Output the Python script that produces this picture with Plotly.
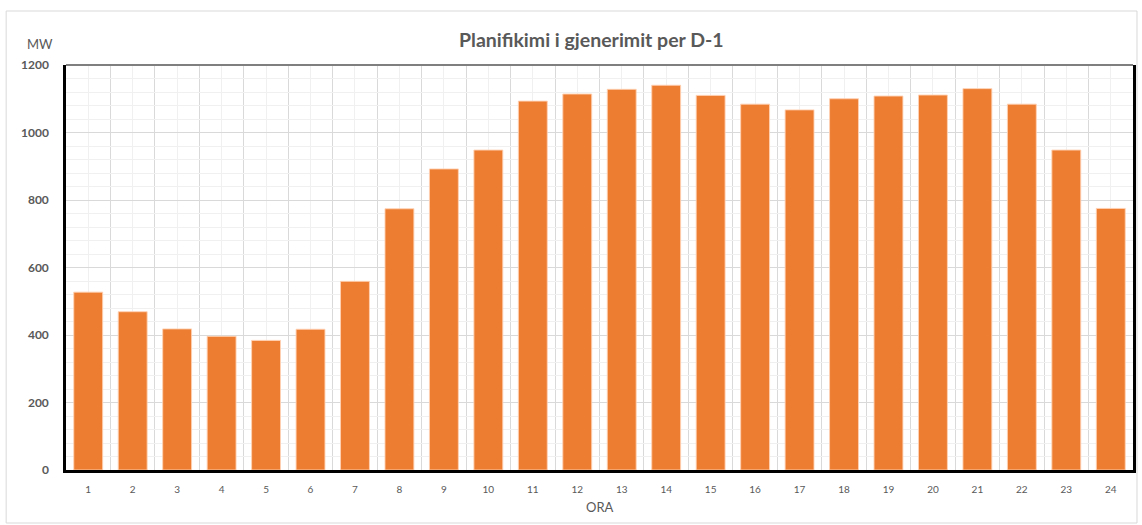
import plotly.graph_objects as go

hours = list(range(1, 25))
mw = [527, 469, 418, 396, 384, 417, 559, 774, 892, 948, 1093, 1114,
      1128, 1140, 1110, 1084, 1067, 1100, 1108, 1111, 1130, 1084, 948, 775]
y_ticks = [0, 200, 400, 600, 800, 1000, 1200]

title_text = "Planifikimi i gjenerimit per D-1"
y_unit = "MW"
x_title = "ORA"

FONT = "Lato, 'Open Sans', sans-serif"
GRAY = "#595959"

fig = go.Figure()
fig.add_trace(go.Bar(
    x=hours, y=mw, width=0.65,
    marker=dict(color="#ED7D31", line=dict(color="rgba(255,210,180,0.9)", width=1)),
    hoverinfo="x+y",
))

W, H = 1142, 525
L, R, T, B = 66, 6, 65, 55
pw, ph = W - L - R, H - T - B

def px_x(px):
    return (px - L) / pw

def px_y(py):
    return (H - B - py) / ph

fig.update_layout(
    width=W, height=H,
    margin=dict(l=L, r=R, t=T, b=B),
    paper_bgcolor="white", plot_bgcolor="white",
    showlegend=False,
    bargap=0.35,
    font=dict(family=FONT, color=GRAY),
    xaxis=dict(
        range=[0.5, 24.5],
        tickmode="array", tickvals=hours, ticktext=[str(h) for h in hours],
        tickfont=dict(size=10, color=GRAY),
        showgrid=True, gridcolor="#f0f0f0", gridwidth=1,
        minor=dict(tick0=0.5, dtick=1, showgrid=True, gridcolor="#d9d9d9", gridwidth=1),
        showline=True, linecolor="black", linewidth=2.5,
        ticks="", ticklabelstandoff=8,
        zeroline=False, fixedrange=True,
    ),
    yaxis=dict(
        range=[0, 1200],
        tickmode="array", tickvals=y_ticks,
        tickfont=dict(size=12, color=GRAY, weight="bold"),
        showgrid=True, gridcolor="#d9d9d9", gridwidth=1,
        minor=dict(dtick=40, showgrid=True, gridcolor="#f0f0f0", gridwidth=1),
        showline=True, linecolor="black", linewidth=2.5, mirror=True,
        ticks="", ticklabelstandoff=12,
        zeroline=False, fixedrange=True,
    ),
    shapes=[
        dict(type="line", xref="paper", yref="paper", x0=0, x1=1, y0=1, y1=1,
             line=dict(color="#7f7f7f", width=2)),
        dict(type="rect", xref="paper", yref="paper",
             x0=px_x(6), x1=px_x(1140), y0=px_y(11), y1=px_y(523),
             line=dict(color="#d9d9d9", width=1), layer="below"),
    ],
    annotations=[
        dict(text=f"<b>{title_text}</b>", xref="paper", yref="paper",
             x=px_x(593), y=px_y(40), showarrow=False,
             font=dict(size=19.5, color=GRAY, family=FONT), xanchor="center", yanchor="middle"),
        dict(text=y_unit, xref="paper", yref="paper",
             x=px_x(40), y=px_y(44), showarrow=False,
             font=dict(size=13, color=GRAY, family=FONT), xanchor="center", yanchor="middle"),
        dict(text=x_title, xref="paper", yref="paper",
             x=px_x(601), y=px_y(507), showarrow=False,
             font=dict(size=13, color=GRAY, family=FONT), xanchor="center", yanchor="middle"),
    ],
)

fig.write_html("out.html", config={"displayModeBar": False},
               post_script="document.body.style.margin='0';")
